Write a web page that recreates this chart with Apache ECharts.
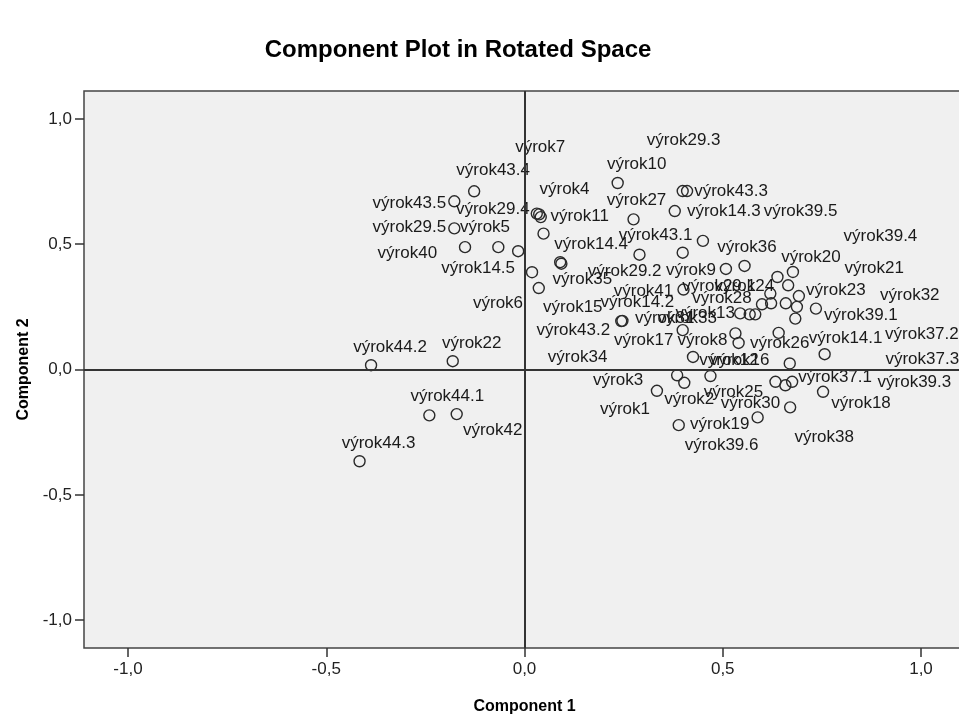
<!DOCTYPE html>
<html>
<head>
<meta charset="utf-8">
<script src="https://cdn.jsdelivr.net/npm/echarts@6/dist/echarts.min.js"></script>
<style>
  html, body { margin: 0; padding: 0; background: #ffffff; overflow: hidden; }
  #chart { width: 959px; height: 720px; }
</style>
</head>
<body>
<div id="chart"></div>
<script>
// Variable names (labels)
const names = [
  'výrok43.4','výrok43.5','výrok29.5','výrok5','výrok40','výrok14.5','výrok44.2','výrok22','výrok44.1','výrok42',
  'výrok44.3','výrok6','výrok15','výrok29.4','výrok11','výrok7','výrok4','výrok14.4','výrok35','výrok10',
  'výrok29.3','výrok43.3','výrok27','výrok14.3','výrok43.1','výrok29.2','výrok36','výrok9','výrok39.5','výrok41',
  'výrok20','výrok39.4','výrok21','výrok23','výrok24','výrok28','výrok29.1','výrok32','výrok39.1','výrok37.2',
  'výrok37.3','výrok31','výrok33','výrok13','výrok14.2','výrok43.2','výrok17','výrok8','výrok34','výrok26',
  'výrok16','výrok14.1','výrok12','výrok3','výrok2','výrok25','výrok1','výrok19','výrok30','výrok39.3',
  'výrok37.1','výrok18','výrok38','výrok39.6'
];
// Component 1 loadings
const comp1 = [
  -0.127,-0.177,-0.177,-0.150,-0.066,-0.016,-0.387,-0.181,-0.240,-0.171,
  -0.416, 0.019, 0.036, 0.031, 0.041, 0.037, 0.048, 0.090, 0.093, 0.235,
   0.399, 0.410, 0.275, 0.379, 0.290, 0.399, 0.450, 0.508, 0.555, 0.401,
   0.677, 0.638, 0.665, 0.692, 0.620, 0.599, 0.622, 0.659, 0.735, 0.687,
   0.683, 0.568, 0.582, 0.544, 0.247, 0.244, 0.399, 0.532, 0.540, 0.641,
   0.669, 0.757, 0.425, 0.385, 0.403, 0.469, 0.334, 0.389, 0.633, 0.658,
   0.675, 0.753, 0.670, 0.588
];
// Component 2 loadings
const comp2 = [
   0.711, 0.671, 0.563, 0.488, 0.488, 0.472, 0.017, 0.033,-0.183,-0.178,
  -0.366, 0.388, 0.325, 0.622, 0.608, 0.619, 0.542, 0.428, 0.422, 0.744,
   0.712, 0.712, 0.599, 0.632, 0.458, 0.466, 0.513, 0.401, 0.413, 0.319,
   0.389, 0.369, 0.336, 0.293, 0.303, 0.260, 0.264, 0.264, 0.243, 0.250,
   0.203, 0.220, 0.220, 0.224, 0.194, 0.193, 0.157, 0.144, 0.106, 0.146,
   0.024, 0.061, 0.050,-0.023,-0.053,-0.026,-0.085,-0.222,-0.049,-0.063,
  -0.049,-0.089,-0.151,-0.191
];
const tickValues = [-1, -0.5, 0, 0.5, 1];

// label placement (pixel offsets of each label centre from its point)
const labelOffset = {
  'výrok43.4':[19,-21],'výrok43.5':[-45,2],'výrok29.5':[-45,-1],'výrok5':[20,-20],'výrok40':[-91,6],
  'výrok14.5':[-40,17],'výrok44.2':[19,-18],'výrok22':[19,-18],'výrok44.1':[18,-19],'výrok42':[36,16],
  'výrok44.3':[19,-18],'výrok6':[-34,31],'výrok15':[34,19],'výrok29.4':[-44,-4],'výrok11':[39,-1],
  'výrok7':[1,-67],'výrok4':[21,-44],'výrok14.4':[31,-18],'výrok35':[21,16],'výrok10':[19,-19],
  'výrok29.3':[1,-51],'výrok43.3':[44,0],'výrok27':[3,-19],'výrok14.3':[49,0],'výrok43.1':[16,-19],
  'výrok29.2':[-58,19],'výrok36':[44,6],'výrok9':[-35,1],'výrok39.5':[56,-55],'výrok41':[-40,2],
  'výrok20':[18,-15],'výrok39.4':[103,-41],'výrok21':[86,-17],'výrok23':[37,-6],'výrok24':[-26,-7],
  'výrok28':[-40,-6],'výrok29.1':[-52,-17],'výrok32':[124,-8],'výrok39.1':[45,7],'výrok37.2':[125,27],
  'výrok37.3':[127,41],'výrok31':[-85,4],'výrok33':[-68,4],'výrok13':[-35,0],'výrok14.2':[15,-19],
  'výrok43.2':[-48,9],'výrok17':[-39,10],'výrok8':[-33,7],'výrok34':[-161,14],'výrok26':[1,10],
  'výrok16':[-50,-3],'výrok14.1':[21,-16],'výrok12':[36,3],'výrok3':[-59,5],'výrok2':[5,17],
  'výrok25':[23,16],'výrok1':[-32,19],'výrok19':[41,-1],'výrok30':[-25,22],'výrok39.3':[129,-3],
  'výrok37.1':[43,-4],'výrok18':[38,12],'výrok38':[34,30],'výrok39.6':[-36,28]
};

const FONT = 'Liberation Sans, Arial, sans-serif';
const fmt = v => v.toFixed(1).replace('.', ',');

const data = names.map((n, i) => ({
  name: n,
  value: [comp1[i], comp2[i]],
  label: { offset: labelOffset[n] || [20, -19] }
}));

const chart = echarts.init(document.getElementById('chart'), null, { renderer: 'canvas' });
chart.setOption({
  animation: false,
  backgroundColor: '#ffffff',
  title: {
    text: 'Component Plot in Rotated Space',
    left: 453, top: 33, textAlign: 'center',
    textStyle: { fontFamily: FONT, fontSize: 24, fontWeight: 'bold', color: '#000' }
  },
  grid: {
    left: 84, top: 91, bottom: 72, right: -6,
    show: true, backgroundColor: '#f0f0f0', borderColor: '#444', borderWidth: 1.5,
    containLabel: false, outerBoundsMode: 'none'
  },
  xAxis: {
    type: 'value', min: -1.111, max: 1.111,
    name: 'Component 1', nameLocation: 'middle', nameGap: 51,
    nameTextStyle: { fontFamily: FONT, fontSize: 16, fontWeight: 'bold', color: '#000' },
    axisLine: { show: false, onZero: false },
    splitLine: { show: false },
    axisTick: { show: true, inside: false, length: 9, customValues: tickValues,
      lineStyle: { color: '#333', width: 1.5 } },
    axisLabel: { customValues: tickValues, formatter: fmt, margin: 13,
      fontFamily: FONT, fontSize: 17, color: '#222' }
  },
  yAxis: {
    type: 'value', min: -1.111, max: 1.111,
    name: 'Component 2', nameLocation: 'middle', nameGap: 48,
    nameTextStyle: { fontFamily: FONT, fontSize: 16, fontWeight: 'bold', color: '#000' },
    axisLine: { show: false, onZero: false },
    splitLine: { show: false },
    axisTick: { show: true, inside: false, length: 9, customValues: tickValues,
      lineStyle: { color: '#333', width: 1.5 } },
    axisLabel: { customValues: tickValues, formatter: fmt, margin: 12,
      fontFamily: FONT, fontSize: 17, color: '#222' }
  },
  series: [{
    type: 'scatter',
    data: data,
    symbol: 'circle',
    symbolSize: 11,
    silent: true,
    itemStyle: { color: 'rgba(0,0,0,0)', borderColor: '#2a2a2a', borderWidth: 1.4, opacity: 1 },
    label: {
      show: true, position: 'inside', formatter: '{b}',
      align: 'center', verticalAlign: 'middle',
      fontFamily: FONT, fontSize: 17, color: '#1a1a1a'
    },
    emphasis: { disabled: true },
    markLine: {
      silent: true, symbol: ['none', 'none'], animation: false,
      label: { show: false },
      lineStyle: { color: '#333', type: 'solid', width: 2 },
      emphasis: { disabled: true },
      data: [{ xAxis: 0 }, { yAxis: 0 }]
    }
  }]
});
</script>
</body>
</html>
